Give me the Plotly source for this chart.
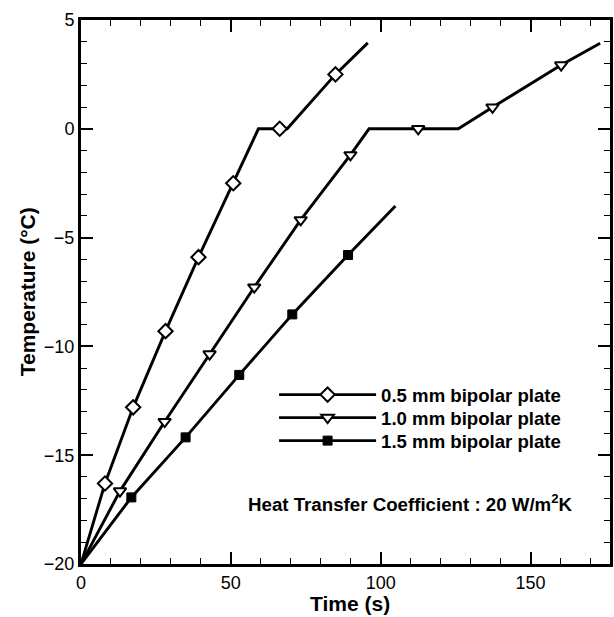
import plotly.graph_objects as go

# ---- data ----
t05_line = [0, 8.0, 17.4, 28.2, 39.2, 50.8, 59.2, 68.8, 84.9, 95.7]
T05_line = [-20, -16.3, -12.8, -9.3, -5.9, -2.5, 0, 0, 2.5, 3.95]
t05_mk = [8.0, 17.4, 28.2, 39.2, 50.8, 66.3, 84.9]
T05_mk = [-16.3, -12.8, -9.3, -5.9, -2.5, 0, 2.5]

t10_line = [0, 13.0, 27.9, 42.9, 57.8, 73.3, 89.9, 96.1, 125.9, 137.3, 160.2, 173.2]
T10_line = [-20, -16.65, -13.46, -10.35, -7.28, -4.19, -1.2, 0, 0, 0.99, 2.93, 3.93]
t10_mk = [13.0, 27.9, 42.9, 57.8, 73.3, 89.9, 112.5, 137.3, 160.2]
T10_mk = [-16.65, -13.46, -10.35, -7.28, -4.19, -1.2, 0, 0.99, 2.93]

t15_line = [0, 16.8, 34.9, 52.8, 70.5, 89.1, 104.9]
T15_line = [-20, -16.94, -14.18, -11.31, -8.53, -5.8, -3.55]
t15_mk = [16.8, 34.9, 52.8, 70.5, 89.1]
T15_mk = [-16.94, -14.18, -11.31, -8.53, -5.8]

names = ["0.5 mm bipolar plate", "1.0 mm bipolar plate", "1.5 mm bipolar plate"]
x_ticks = [0, 50, 100, 150]
y_ticks = [-20, -15, -10, -5, 0, 5]

FONT = "Liberation Sans, Arial, sans-serif"
LW = 2.9
styles = [
    dict(symbol="diamond", size=11, color="white", line=dict(color="black", width=2)),
    dict(symbol="triangle-down", size=11, color="white", line=dict(color="black", width=2)),
    dict(symbol="square", size=9, color="black", line=dict(color="black", width=1)),
]

series = [
    (t05_line, T05_line, t05_mk, T05_mk),
    (t10_line, T10_line, t10_mk, T10_mk),
    (t15_line, T15_line, t15_mk, T15_mk),
]

fig = go.Figure()
for (xl, yl, xm, ym) in series:
    fig.add_trace(go.Scatter(x=xl, y=yl, mode="lines", line=dict(color="black", width=LW),
                             showlegend=False, hoverinfo="skip"))
for (xl, yl, xm, ym), st in zip(series, styles):
    fig.add_trace(go.Scatter(x=xm, y=ym, mode="markers", marker=st, showlegend=False))
legend_ids = ["legend", "legend2", "legend3"]
for name, st, lg in zip(names, styles, legend_ids):
    fig.add_trace(go.Scatter(x=[None], y=[None], mode="lines+markers", name=name, legend=lg,
                             line=dict(color="black", width=LW), marker=st))

axis_common = dict(
    showline=True, linecolor="black", linewidth=3, mirror="ticks",
    ticks="inside", ticklen=12, tickwidth=2, tickcolor="black",
    showgrid=False, zeroline=False,
    tickfont=dict(family=FONT, size=18, color="black"),
)

leg_font = dict(family=FONT, size=18.6, color="black", weight="bold")
leg_common = dict(x=0.365, xanchor="left", yanchor="top", bgcolor="rgba(0,0,0,0)",
                  itemwidth=97, font=leg_font)

fig.update_layout(
    width=614, height=617,
    margin=dict(l=81, r=1, t=20, b=53),
    paper_bgcolor="white", plot_bgcolor="white",
    font=dict(family=FONT, color="black"),
    xaxis=dict(range=[0, 176.5], tickvals=x_ticks,
               minor=dict(dtick=10, ticks="inside", ticklen=6, tickwidth=1, tickcolor="black"),
               **axis_common),
    yaxis=dict(range=[-20, 5], tickvals=y_ticks,
               minor=dict(dtick=1, ticks="inside", ticklen=6, tickwidth=1, tickcolor="black"),
               **axis_common),
    legend=dict(y=0.3456, **leg_common),
    legend2=dict(y=0.3033, **leg_common),
    legend3=dict(y=0.2610, **leg_common),
    annotations=[
        dict(text="Heat Transfer Coefficient : 20 W/m<sup>2</sup>K", xref="paper", yref="paper",
             x=0.312, y=0.112, xanchor="left", yanchor="middle", showarrow=False,
             font=dict(family=FONT, size=18.7, color="black", weight="bold")),
        dict(text="Time (s)", xref="paper", yref="paper", x=0.509, y=-0.072,
             xanchor="center", yanchor="middle", showarrow=False,
             font=dict(family=FONT, size=21, color="black", weight="bold")),
        dict(text="Temperature (°C)", xref="paper", yref="paper", x=-0.1015, y=0.5,
             xanchor="center", yanchor="middle", textangle=-90, showarrow=False,
             font=dict(family=FONT, size=21, color="black", weight="bold")),
    ],
)

fig.write_html("out.html")
